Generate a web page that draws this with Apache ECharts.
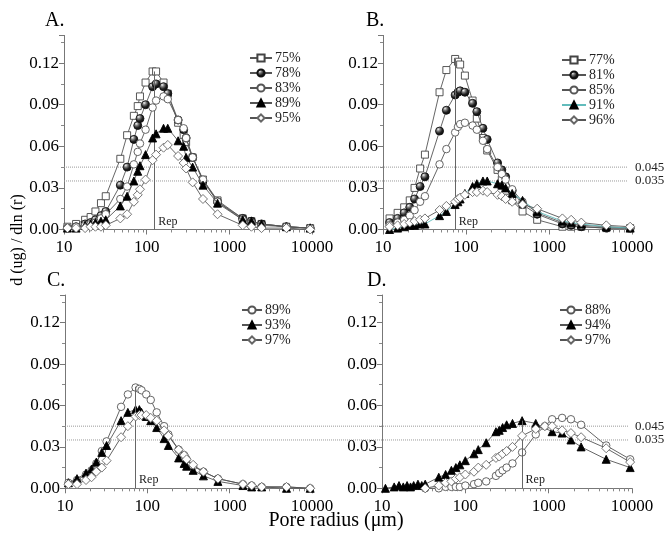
<!DOCTYPE html>
<html><head><meta charset="utf-8">
<script src="https://cdn.jsdelivr.net/npm/echarts@6/dist/echarts.min.js"></script>
<style>html,body{margin:0;padding:0;background:#fff}#c{width:667px;height:537px}</style>
</head><body><div id="c"></div>
<script>
// ---------- data ----------
const xMajorTicks = [10, 100, 1000, 10000];
const xMinorTicks = [20,30,40,50,60,70,80,90,200,300,400,500,600,700,800,900,2000,3000,4000,5000,6000,7000,8000,9000];
const yTickStep = 0.03;
const refLines = [0.045, 0.035];

const radiiA = [11,14,18,21,24,28,32,48,58,70,78,83,97,118,130,160,180,240,280,300,360,480,720,1450,1850,2450,4900,9500];
const A75 = [0.002,0.004,0.007,0.009,0.013,0.019,0.024,0.051,0.068,0.082,0.089,0.096,0.106,0.114,0.114,0.106,0.098,0.077,0.068,0.063,0.052,0.036,0.021,0.008,0.006,0.004,0.002,0.001];
const A78 = [0.001,0.002,0.004,0.005,0.007,0.010,0.013,0.032,0.045,0.065,0.075,0.080,0.090,0.103,0.105,0.103,0.098,0.079,0.072,0.066,0.052,0.035,0.020,0.008,0.006,0.004,0.002,0.001];
const A83 = [0.001,0.002,0.003,0.004,0.005,0.008,0.011,0.022,0.031,0.047,0.056,0.062,0.072,0.088,0.093,0.096,0.094,0.079,0.073,0.066,0.052,0.036,0.020,0.007,0.005,0.003,0.002,0.001];
const A89 = [0.001,0.001,0.003,0.004,0.005,0.006,0.007,0.017,0.024,0.035,0.042,0.046,0.054,0.066,0.069,0.073,0.073,0.064,0.060,0.052,0.045,0.032,0.019,0.007,0.006,0.004,0.002,0.001];
const A95 = [0.001,0.001,0.001,0.002,0.002,0.002,0.003,0.008,0.011,0.020,0.025,0.029,0.036,0.050,0.054,0.059,0.061,0.053,0.048,0.044,0.034,0.022,0.011,0.003,0.002,0.001,0.001,0.000];

const radiiB = [12,15,18,21,24,28,32,48,58,74,80,85,97,120,135,160,180,240,270,300,360,480,720,1450,1850,2450,4900,9500];
const B77 = [0.008,0.012,0.016,0.021,0.030,0.044,0.054,0.099,0.115,0.123,0.121,0.119,0.111,0.093,0.080,0.066,0.057,0.043,0.036,0.028,0.021,0.013,0.007,0.002,0.002,0.002,0.001,0.001];
const B81 = [0.005,0.008,0.012,0.016,0.022,0.031,0.038,0.071,0.086,0.097,0.099,0.100,0.099,0.091,0.085,0.073,0.065,0.048,0.043,0.038,0.028,0.018,0.011,0.004,0.003,0.002,0.001,0.001];
const B85 = [0.003,0.005,0.007,0.010,0.014,0.020,0.024,0.047,0.058,0.070,0.074,0.076,0.077,0.075,0.072,0.064,0.058,0.045,0.040,0.036,0.029,0.020,0.012,0.005,0.004,0.003,0.002,0.001];
const B91 = [0.000,0.001,0.002,0.003,0.003,0.004,0.004,0.010,0.013,0.018,0.020,0.022,0.026,0.031,0.033,0.035,0.035,0.033,0.032,0.030,0.026,0.021,0.013,0.006,0.005,0.004,0.002,0.001];
const B96 = [0.002,0.003,0.004,0.005,0.006,0.007,0.008,0.014,0.017,0.020,0.022,0.023,0.025,0.027,0.027,0.028,0.027,0.025,0.024,0.022,0.020,0.018,0.015,0.008,0.007,0.005,0.003,0.002];

const radiiC = [11,14,18,21,24,28,32,48,58,72,80,85,97,110,130,160,180,240,280,300,360,480,720,1450,1850,2450,4900,9500];
const C89 = [0.004,0.006,0.010,0.013,0.018,0.027,0.034,0.059,0.068,0.073,0.072,0.071,0.068,0.064,0.055,0.045,0.039,0.028,0.024,0.021,0.016,0.012,0.007,0.003,0.002,0.001,0.001,0.000];
const C93 = [0.004,0.007,0.011,0.014,0.019,0.026,0.031,0.049,0.055,0.057,0.057,0.055,0.052,0.049,0.044,0.036,0.031,0.022,0.018,0.016,0.013,0.009,0.005,0.002,0.001,0.001,0.000,0.000];
const C97 = [0.003,0.003,0.006,0.008,0.012,0.015,0.020,0.037,0.045,0.052,0.053,0.053,0.053,0.051,0.049,0.042,0.038,0.028,0.024,0.021,0.017,0.012,0.007,0.003,0.002,0.001,0.001,0.000];

const radiiD = [11,14,16,18,20,22,24,27,30,33,48,58,68,77,86,100,127,143,178,233,255,280,313,368,480,700,900,1100,1450,1850,2450,4900,9500];
const D88 = [null,null,null,null,null,null,null,null,null,0.000,0.000,0.001,0.001,0.001,0.001,0.002,0.003,0.004,0.005,0.009,0.011,0.013,0.015,0.018,0.026,0.039,0.045,0.050,0.051,0.050,0.046,0.031,0.021];
const D94 = [0.000,0.001,0.002,0.001,0.002,0.001,0.002,0.003,0.002,0.003,0.008,0.010,0.013,0.015,0.017,0.020,0.025,0.028,0.033,0.041,0.042,0.044,0.046,0.047,0.049,0.047,null,0.041,0.040,0.035,0.030,0.021,0.015];
const D97 = [null,null,null,null,null,null,null,null,null,0.000,0.002,0.004,0.005,0.007,0.008,0.010,0.012,0.015,0.017,0.022,0.023,0.025,0.027,0.030,0.038,0.043,0.045,0.045,0.042,0.040,0.037,0.029,0.019];

// Representative pore radius (Rep) per panel: [radius, top of line]
const repA = [125, 0.114];
const repB = [74, 0.123];
const repC = [72, 0.0735];
const repD = [480, 0.049];

// ---------- styling ----------
const FONT = 'Liberation Serif';
const sphereFill = {type:'radial', x:0.35, y:0.3, r:0.75, colorStops:[{offset:0,color:'#f4f4f4'},{offset:0.3,color:'#777'},{offset:0.6,color:'#222'},{offset:1,color:'#000'}]};
const MK = {
  square:   {symbol:'rect',     size:7, fill:'#fff', border:'#444'},
  sphere:   {symbol:'circle',   size:8, fill:sphereFill, border:'#111'},
  circle:   {symbol:'circle',   size:7.5, fill:'#fff', border:'#555'},
  triangle: {symbol:'triangle', size:8, fill:'#000', border:'#000'},
  diamond:  {symbol:'diamond',  size:9, fill:'#fff', border:'#666'}
};

const panels = [
  {key:'A', radii:radiiA, rep:repA, series:[['75%',A75,'square'],['78%',A78,'sphere'],['83%',A83,'circle'],['89%',A89,'triangle'],['95%',A95,'diamond']],
   grid:{left:64, top:35.4, width:248, height:194.1}, legend:{left:249, top:50.5, itemWidth:22}, title:{left:45, top:11}},
  {key:'B', radii:radiiB, rep:repB, series:[['77%',B77,'square'],['81%',B81,'sphere'],['85%',B85,'circle'],['91%',B91,'triangle','#62bcbc'],['96%',B96,'diamond']],
   grid:{left:383, top:35.4, width:249, height:194.1}, legend:{left:561, top:52.5, itemWidth:24}, title:{left:366, top:11}},
  {key:'C', radii:radiiC, rep:repC, series:[['89%',C89,'circle'],['93%',C93,'triangle'],['97%',C97,'diamond']],
   grid:{left:65, top:295, width:247, height:193.3}, legend:{left:241, top:302.5, itemWidth:20}, title:{left:47, top:271}},
  {key:'D', radii:radiiD, rep:repD, series:[['88%',D88,'circle'],['94%',D94,'triangle'],['97%',D97,'diamond']],
   grid:{left:382, top:295, width:250, height:193.3}, legend:{left:559, top:302.5, itemWidth:22}, title:{left:367, top:271}}
];

const grid = [], xAxis = [], yAxis = [], series = [], legend = [], title = [];
panels.forEach((p, i) => {
  grid.push(p.grid);
  xAxis.push({
    type:'log', logBase:10, gridIndex:i, min:10, max:10000, position:'bottom',
    axisLine:{lineStyle:{color:'#777', width:1}},
    axisTick:{length:5, lineStyle:{color:'#777'}, customValues:xMajorTicks},
    axisLabel:{fontFamily:FONT, fontSize:17, color:'#000', margin:10, customValues:xMajorTicks,
      formatter:v => String(Math.round(v))},
    splitLine:{show:false}
  });
  xAxis.push({
    type:'log', logBase:10, gridIndex:i, min:10, max:10000, position:'bottom', offset:0,
    axisLine:{show:false}, axisLabel:{show:false}, splitLine:{show:false},
    axisTick:{show:true, length:3, lineStyle:{color:'#888'}, customValues:xMinorTicks}
  });
  yAxis.push({
    type:'value', gridIndex:i, min:0, max:0.14, interval:yTickStep,
    axisLine:{show:true, lineStyle:{color:'#777', width:1}},
    axisTick:{show:true, length:5, lineStyle:{color:'#777'}},
    minorTick:{show:true, splitNumber:2, length:3, lineStyle:{color:'#888'}},
    splitLine:{show:false},
    axisLabel:{fontFamily:FONT, fontSize:17, color:'#000', margin:5, showMaxLabel:false,
      formatter:v => v.toFixed(2)}
  });
  const names = [];
  p.series.forEach((s, j) => {
    const [pct, vals, mk, lineColor] = s;
    const m = MK[mk];
    const name = p.key + '|' + pct;
    names.push(name);
    const data = [];
    p.radii.forEach((r, k) => { if (vals[k] !== null) data.push([r, vals[k]]); });
    const ser = {
      type:'line', name, xAxisIndex:2*i, yAxisIndex:i, data,
      symbol:m.symbol, symbolSize:m.size, showAllSymbol:true,
      lineStyle:{color:lineColor || '#555', width:0.9},
      itemStyle:{color:m.fill, borderColor:m.border, borderWidth:0.9},
      emphasis:{disabled:true}, animation:false, z: 3 + j
    };
    if (j === 0) {
      ser.markLine = {
        silent:true, symbol:['none','none'], animation:false,
        lineStyle:{color:'#666', width:1, type:'solid'}, label:{show:false},
        data:[[{coord:[p.rep[0], 0]}, {coord:[p.rep[0], p.rep[1]]}]]
      };
      ser.markPoint = {
        silent:true, animation:false,
        data:[{coord:[p.rep[0], 0.0058], symbol:'circle', symbolSize:1, itemStyle:{color:'rgba(0,0,0,0)'},
          label:{show:true, formatter:'Rep', position:'right', distance:3, fontFamily:FONT, fontSize:12, color:'#222'}}]
      };
    }
    series.push(ser);
  });
  legend.push({
    orient:'vertical', left:p.legend.left, top:p.legend.top, itemWidth:p.legend.itemWidth, itemHeight:9,
    itemGap:0, padding:0, selectedMode:false, data:names,
    formatter:n => n.split('|')[1],
    textStyle:{fontFamily:FONT, fontSize:14, color:'#222', lineHeight:15, padding:[0,0,0,-2]}
  });
  title.push({text:p.key + '.', left:p.title.left, top:p.title.top, padding:0,
    textStyle:{fontFamily:FONT, fontSize:20, fontWeight:'normal', color:'#000'}});
});

// overlays for the dotted reference lines that span both panels of a row
const overlays = [
  {left:64, top:35.4, width:564, height:194.1},
  {left:65, top:295, width:563, height:193.3}
];
overlays.forEach((g, oi) => {
  const gi = grid.length;
  grid.push(g);
  xAxis.push({type:'value', gridIndex:gi, min:0, max:1, show:false});
  yAxis.push({type:'value', gridIndex:gi, min:0, max:0.14, show:false});
  refLines.forEach(v => {
    series.push({
      type:'line', xAxisIndex:xAxis.length-1, yAxisIndex:yAxis.length-1,
      data:[[0, v],[1, v]], symbol:'none', silent:true, animation:false, z:1,
      lineStyle:{type:'dotted', color:'#9a9a9a', width:1},
      endLabel:{show:true, formatter:() => v.toFixed(3), distance:7, fontFamily:FONT, fontSize:13, color:'#222'}
    });
  });
});

const chart = echarts.init(document.getElementById('c'), null, {renderer:'canvas'});
chart.setOption({
  backgroundColor:'#fff', animation:false,
  title, legend, grid, xAxis, yAxis, series,
  graphic:[
    {type:'text', x:18, y:240, rotation:Math.PI/2,
     style:{text:'d (ug) / dln (r)', font:'16px "Liberation Serif"', fill:'#000', textAlign:'center', textVerticalAlign:'middle'}},
    {type:'text', x:336, y:521,
     style:{text:'Pore radius (μm)', font:'20px "Liberation Serif"', fill:'#000', textAlign:'center', textVerticalAlign:'middle'}}
  ]
});
</script></body></html>
